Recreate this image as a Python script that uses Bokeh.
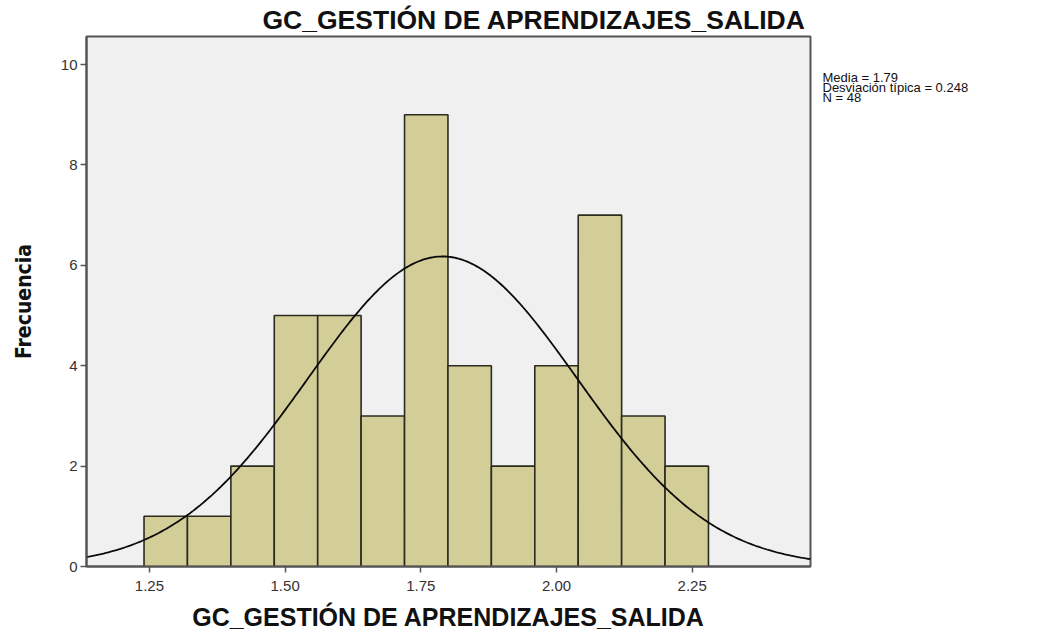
import numpy as np
from bokeh.plotting import figure
from bokeh.layouts import row
from bokeh.models import Range1d, FixedTicker
from bokeh.core.properties import value
from bokeh.embed import file_html
from bokeh.resources import INLINE

# ---- data ----
bin_edges = [1.24, 1.32, 1.40, 1.48, 1.56, 1.64, 1.72, 1.80, 1.88, 1.96, 2.04, 2.12, 2.20, 2.28]
counts = [1, 1, 2, 5, 5, 3, 9, 4, 2, 4, 7, 3, 2]
mean_val = 1.79
sd_val = 0.248
n_val = 48
x_ticks = [1.25, 1.50, 1.75, 2.00, 2.25]
x_tick_labels = ["1.25", "1.50", "1.75", "2.00", "2.25"]
y_ticks = [0, 2, 4, 6, 8, 10]
title_text = "GC_GESTIÓN DE APRENDIZAJES_SALIDA"
x_label = "GC_GESTIÓN DE APRENDIZAJES_SALIDA"
y_label = "Frecuencia"
stats_lines = ["Media = 1.79", "Desviación típica = 0.248", "N = 48"]

X0, X1 = 1.134, 2.468
Y0, Y1 = 0, 10.56
H = 633
TOP, BOTTOM = 36, 567  # frame top/bottom in page pixels

p = figure(width=812, height=H, output_backend="svg", toolbar_location=None,
           x_range=Range1d(X0, X1), y_range=Range1d(Y0, Y1),
           min_border_left=86, min_border_right=2, min_border_top=TOP,
           min_border_bottom=H - BOTTOM)
p.title.text = title_text
p.title.align = "left"
p.title.offset = 176
p.title.text_font = "Liberation Sans"
p.title.text_font_style = "bold"
p.title.text_font_size = "26.5px"
p.title.text_color = "#111111"
p.title.standoff = 4

p.background_fill_color = "#F0F0F0"
p.border_fill_color = "white"
p.outline_line_color = "#555555"
p.outline_line_width = 2
p.xgrid.visible = False
p.ygrid.visible = False

left = bin_edges[:-1]
right = bin_edges[1:]
p.quad(left=left, right=right, bottom=0, top=counts,
       fill_color="#D3CE97", line_color="#2b2b1f", line_width=1.6)

# normal curve
bw = bin_edges[1] - bin_edges[0]
xs = np.linspace(X0, X1, 300)
ys = n_val * bw / (sd_val * np.sqrt(2 * np.pi)) * np.exp(-0.5 * ((xs - mean_val) / sd_val) ** 2)
p.line(xs, ys, line_color="#0a0a0a", line_width=1.8)

for ax in (p.xaxis, p.yaxis):
    ax.axis_line_color = "#555555"
    ax.axis_line_width = 2
    ax.major_tick_line_color = "#555555"
    ax.major_tick_line_width = 1.5
    ax.major_tick_in = 0
    ax.major_tick_out = 6
    ax.minor_tick_line_color = None
    ax.major_label_text_font = "Liberation Sans"
    ax.major_label_text_font_size = "15px"
    ax.major_label_text_color = "#333333"

p.xaxis.ticker = FixedTicker(ticks=x_ticks)
p.xaxis.major_label_overrides = {t: l for t, l in zip(x_ticks, x_tick_labels)}
p.xaxis.major_label_standoff = 8
p.xaxis.axis_label = x_label
p.xaxis.axis_label_text_font = "Liberation Sans"
p.xaxis.axis_label_text_font_style = "bold"
p.xaxis.axis_label_text_font_size = "25px"
p.xaxis.axis_label_text_color = "#111111"
p.xaxis.axis_label_standoff = 9

p.yaxis.ticker = FixedTicker(ticks=y_ticks)
p.yaxis.major_label_standoff = 3
p.yaxis.axis_label = y_label
p.yaxis.axis_label_text_font = "Liberation Sans Narrow, DejaVu Sans Condensed, Liberation Sans"
p.yaxis.axis_label_text_font_style = "bold"
p.yaxis.axis_label_text_font_size = "21px"
p.yaxis.axis_label_text_color = "#111111"
p.yaxis.axis_label_standoff = 22

# stats panel to the right of the chart (its frame is aligned with the chart frame)
SW = 200
s = figure(width=SW, height=H, output_backend="svg", toolbar_location=None,
           x_range=Range1d(0, SW), y_range=Range1d(BOTTOM, TOP),
           min_border_left=0, min_border_right=0, min_border_top=TOP,
           min_border_bottom=H - BOTTOM)
s.axis.visible = False
s.grid.visible = False
s.outline_line_color = None
s.background_fill_color = "white"
s.border_fill_color = "white"
line_y = [77 + 10 * i for i in range(len(stats_lines))]
s.text(x=[10] * len(stats_lines), y=line_y, text=stats_lines,
       text_font=value("Liberation Sans"), text_font_size="13px",
       text_color="#111111", text_align="left", text_baseline="alphabetic")

layout = row(p, s)
open("out.html", "w").write(file_html(layout, INLINE))
